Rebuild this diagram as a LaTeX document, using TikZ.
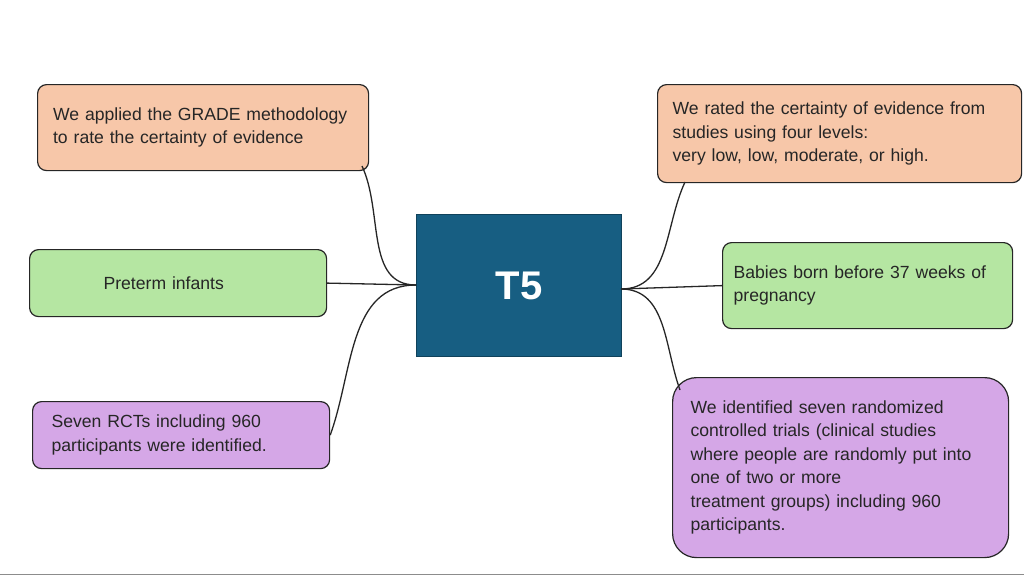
\documentclass[tikz,border=0pt]{standalone}
\usepackage{fontspec}
\setmainfont{Liberation Sans}
\definecolor{salmon}{HTML}{F7C7A9}
\definecolor{mint}{HTML}{B5E6A2}
\definecolor{lilac}{HTML}{D5A7E7}
\definecolor{teal}{HTML}{175E82}
\tikzset{box/.style={draw=black!85,line width=1.2pt,rounded corners=9pt,anchor=north west,
  align=left,inner xsep=15pt,inner ysep=0pt,font=\fontsize{17.6}{23.5}\selectfont,text=black!85},
  link/.style={draw=black!85,line width=1.3pt}}
\begin{document}
\begin{tikzpicture}[x=1pt,y=-1pt]
\useasboundingbox[fill=white] (0,0) rectangle (1024,576);
\draw[black!45] (0,574) -- (1024,574);
\node[box,fill=salmon,minimum width=331pt,minimum height=86pt,text width=300pt] (grade) at (37,84) {We applied the GRADE methodology\\to rate the certainty of evidence};
\node[box,fill=mint,minimum width=297pt,minimum height=67pt,text width=149pt,inner xsep=74pt] (infants) at (29,249) {Preterm infants};
\node[box,fill=lilac,minimum width=297pt,minimum height=67pt,text width=259pt,inner xsep=19pt] (rcts) at (32,401) {Seven RCTs including 960\\participants were identified.};
\node[draw=teal!70!black,line width=1pt,fill=teal,anchor=north west,minimum width=205pt,minimum height=142pt,text=white,font=\fontsize{40}{40}\selectfont\bfseries] (t5) at (416,214) {T5};
\node[box,fill=salmon,minimum width=364pt,minimum height=98pt,text width=334pt] (levels) at (657,84) {We rated the certainty of evidence from\\studies using four levels:\\very low, low, moderate, or high.};
\node[box,fill=mint,minimum width=290pt,minimum height=86pt,text width=268pt,inner xsep=11pt] (babies) at (722,242) {Babies born before 37 weeks of\\pregnancy};
\node[box,fill=lilac,rounded corners=24pt,minimum width=335pt,minimum height=180pt,text width=300pt,inner xsep=18pt] (trials) at (672,377) {We identified seven randomized\\controlled trials (clinical studies\\where people are randomly put into\\one of two or more\\treatment groups) including 960\\participants.};
\coordinate (tl) at (416,285);
\coordinate (tr) at (621,289);
\coordinate (ga) at (362,166);
\coordinate (la) at (685,182);
\coordinate (ta) at (680,390);
\draw[link] (tl) to[out=180,in=-65] (ga);
\draw[link] (tl) -- (infants.east);
\draw[link] (tl) to[out=180,in=70] (rcts.east);
\draw[link] (tr) to[out=0,in=-115] (la);
\draw[link] (tr) -- (babies.west);
\draw[link] (tr) to[out=0,in=110] (ta);
\end{tikzpicture}
\end{document}
